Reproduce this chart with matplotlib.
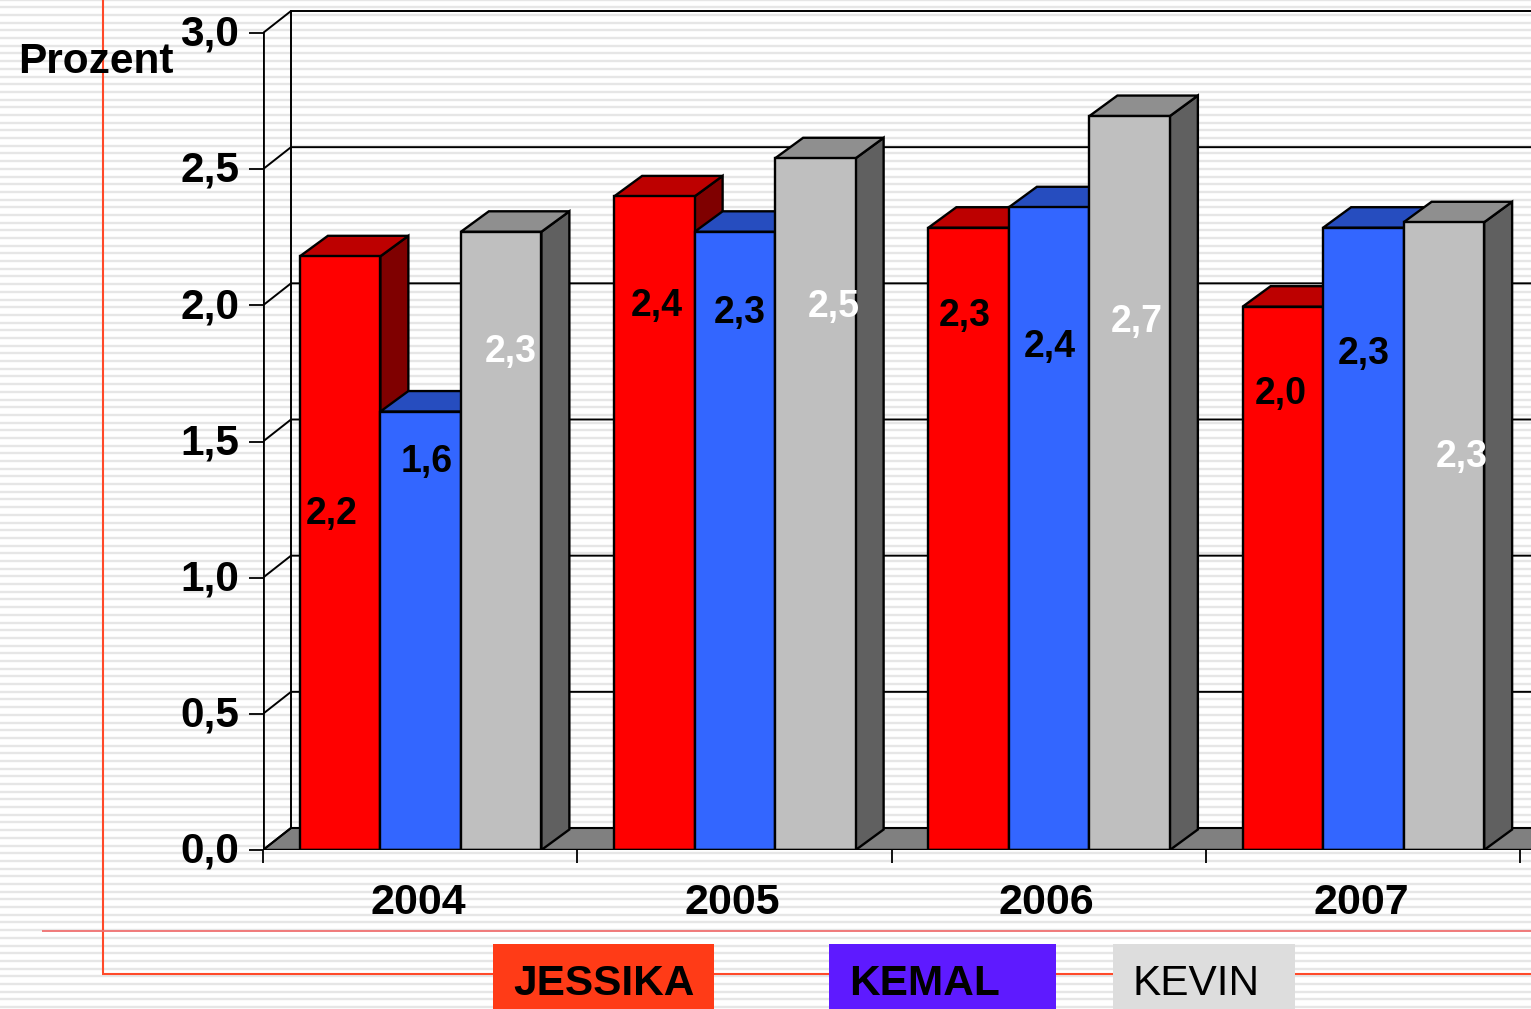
import matplotlib
matplotlib.use('Agg')
import matplotlib.pyplot as plt
import matplotlib.transforms as mtrans
import numpy as np

W, H = 1531, 1009

years = ['2004', '2005', '2006', '2007']
jessika = [2.18, 2.40, 2.285, 1.995]
kemal = [1.61, 2.27, 2.36, 2.285]
kevin = [2.27, 2.54, 2.695, 2.305]
y_ticks = [0.0, 0.5, 1.0, 1.5, 2.0, 2.5, 3.0]
legend_names = ['JESSIKA', 'KEMAL', 'KEVIN']

# front, top, side colours per series
faces = [('#ff0000', '#bd0000', '#7f0000'),
         ('#3366ff', '#264dbf', '#1a3380'),
         ('#bfbfbf', '#8f8f8f', '#606060')]
label_colors = ['black', 'black', 'white']
# value labels were placed by hand in the original, pixel centres per series
label_pos = [[(332, 514), (657, 306), (965, 316), (1281, 394)],
             [(427, 462), (740, 313), (1050, 347), (1364, 354)],
             [(511, 352), (834, 307), (1137, 322), (1462, 457)]]

plt.rcParams['font.family'] = ['Liberation Sans', 'DejaVu Sans']

fig = plt.figure(figsize=(W / 100, H / 100), dpi=100, facecolor='white')

# background: stripes and the red template lines, in pixels
bg = fig.add_axes([0, 0, 1, 1], zorder=0)
bg.set_xlim(0, W)
bg.set_ylim(H, 0)
bg.axis('off')
bg.hlines(np.arange(-0.36, H, 7.69), 0, W, color='#e6e6e6', lw=1.7)
bg.vlines(102.5, 0, 973, color='#ff4a2a', lw=1.5)
bg.hlines(973.5, 102, W, color='#ff4a2a', lw=1.5)
bg.hlines(931, 42, W, color='#f07070', lw=1.3)

# chart axes: 0..4 categories across, value scale upwards
x0, y0, y3 = 263, 850, 33
unit_x = 314.25
unit_y = (y0 - y3) / 3.0
ymax = (y0 - 0) / unit_y
ax = fig.add_axes([x0 / W, (H - y0) / H, (W - x0) / W, y0 / H], zorder=1)
ax.patch.set_alpha(0)
ax.set_xlim(0, (W - x0) / unit_x)
ax.set_ylim(0, ymax)
for s in ax.spines.values():
    s.set_visible(False)

wall_dx = 28 / unit_x
wall_dy = 22 / unit_y
bar_dx = 28 / unit_x
bar_dy = 20.5 / unit_y
bar_w = 80.5 / unit_x
edge = dict(edgecolor='black', linewidth=1.7)

# floor, back wall and gridlines
far = ax.get_xlim()[1] + 0.2
ax.fill([0, wall_dx, far, far], [0, wall_dy, wall_dy, 0], facecolor='#808080',
        edgecolor='black', linewidth=1.5, zorder=1)
ax.plot([wall_dx, wall_dx], [wall_dy, 3 + wall_dy], color='black', lw=1.4, zorder=1)
for v in y_ticks:
    ax.plot([0, wall_dx, far], [v, v + wall_dy, v + wall_dy], color='black',
            lw=1.4, zorder=1)
ax.plot([0, 0], [0, 3], color='black', lw=2.0, zorder=5)
ax.plot([0, far], [0, 0], color='black', lw=2.4, zorder=5)

# bars, left to right so later faces overlap earlier ones
series = [jessika, kemal, kevin]
z = 2
for g in range(len(years)):
    for k, vals in enumerate(series):
        left = g + 0.5 + (k - 1.5) * bar_w + 0.5 / unit_x
        v = vals[g]
        front, top, side = faces[k]
        ax.fill([left + bar_w, left + bar_w + bar_dx, left + bar_w + bar_dx, left + bar_w],
                [0, bar_dy, v + bar_dy, v], facecolor=side, zorder=z, **edge)
        ax.fill([left, left + bar_w, left + bar_w + bar_dx, left + bar_dx],
                [v, v, v + bar_dy, v + bar_dy], facecolor=top, zorder=z, **edge)
        ax.bar(left, v, bar_w, align='edge', facecolor=front, zorder=z, **edge)
        z += 0.01

# ticks
ax.set_yticks(y_ticks)
ax.set_yticklabels([f'{v:.1f}'.replace('.', ',') for v in y_ticks],
                   fontsize=30.5, fontweight='bold')
ax.tick_params(axis='y', length=10, width=1.3, pad=7)
up = mtrans.ScaledTranslation(0, 2 / 72, fig.dpi_scale_trans)
for lab in ax.get_yticklabels():
    lab.set_transform(lab.get_transform() + up)
ax.set_xticks(range(5))
ax.set_xticklabels([])
ax.set_xticks([g + 0.5 - 2 / unit_x for g in range(4)], labels=years, minor=True,
              fontsize=31, fontweight='bold')
ax.tick_params(axis='x', which='major', length=9.5, width=1.3)
ax.tick_params(axis='x', which='minor', length=0, pad=24)

# value labels
for k, vals in enumerate(series):
    for g, v in enumerate(vals):
        px, py = label_pos[k][g]
        fig.text(px / W, 1 - py / H, f'{v:.1f}'.replace('.', ','), fontsize=27,
                 fontweight='bold', color=label_colors[k], ha='center', va='center',
                 zorder=10)

fig.text(96 / W, 1 - 62 / H, 'Prozent', fontsize=30.5, fontweight='bold',
         ha='center', va='center', zorder=10)

# legend boxes
boxes = [(493, 714, '#ff3b17', 'bold'), (829, 1056, '#5e1aff', 'bold'), (1113, 1295, '#dddddd', 'normal')]
for (a, b, c, weight), name in zip(boxes, legend_names):
    bg.fill([a, b, b, a], [944, 944, H, H], facecolor=c, edgecolor='none', zorder=3)
    fig.text((a + 20) / W, 1 - 984 / H, name, fontsize=30.5, fontweight=weight,
             ha='left', va='center', zorder=10)

fig.savefig('out.png', dpi=100)
